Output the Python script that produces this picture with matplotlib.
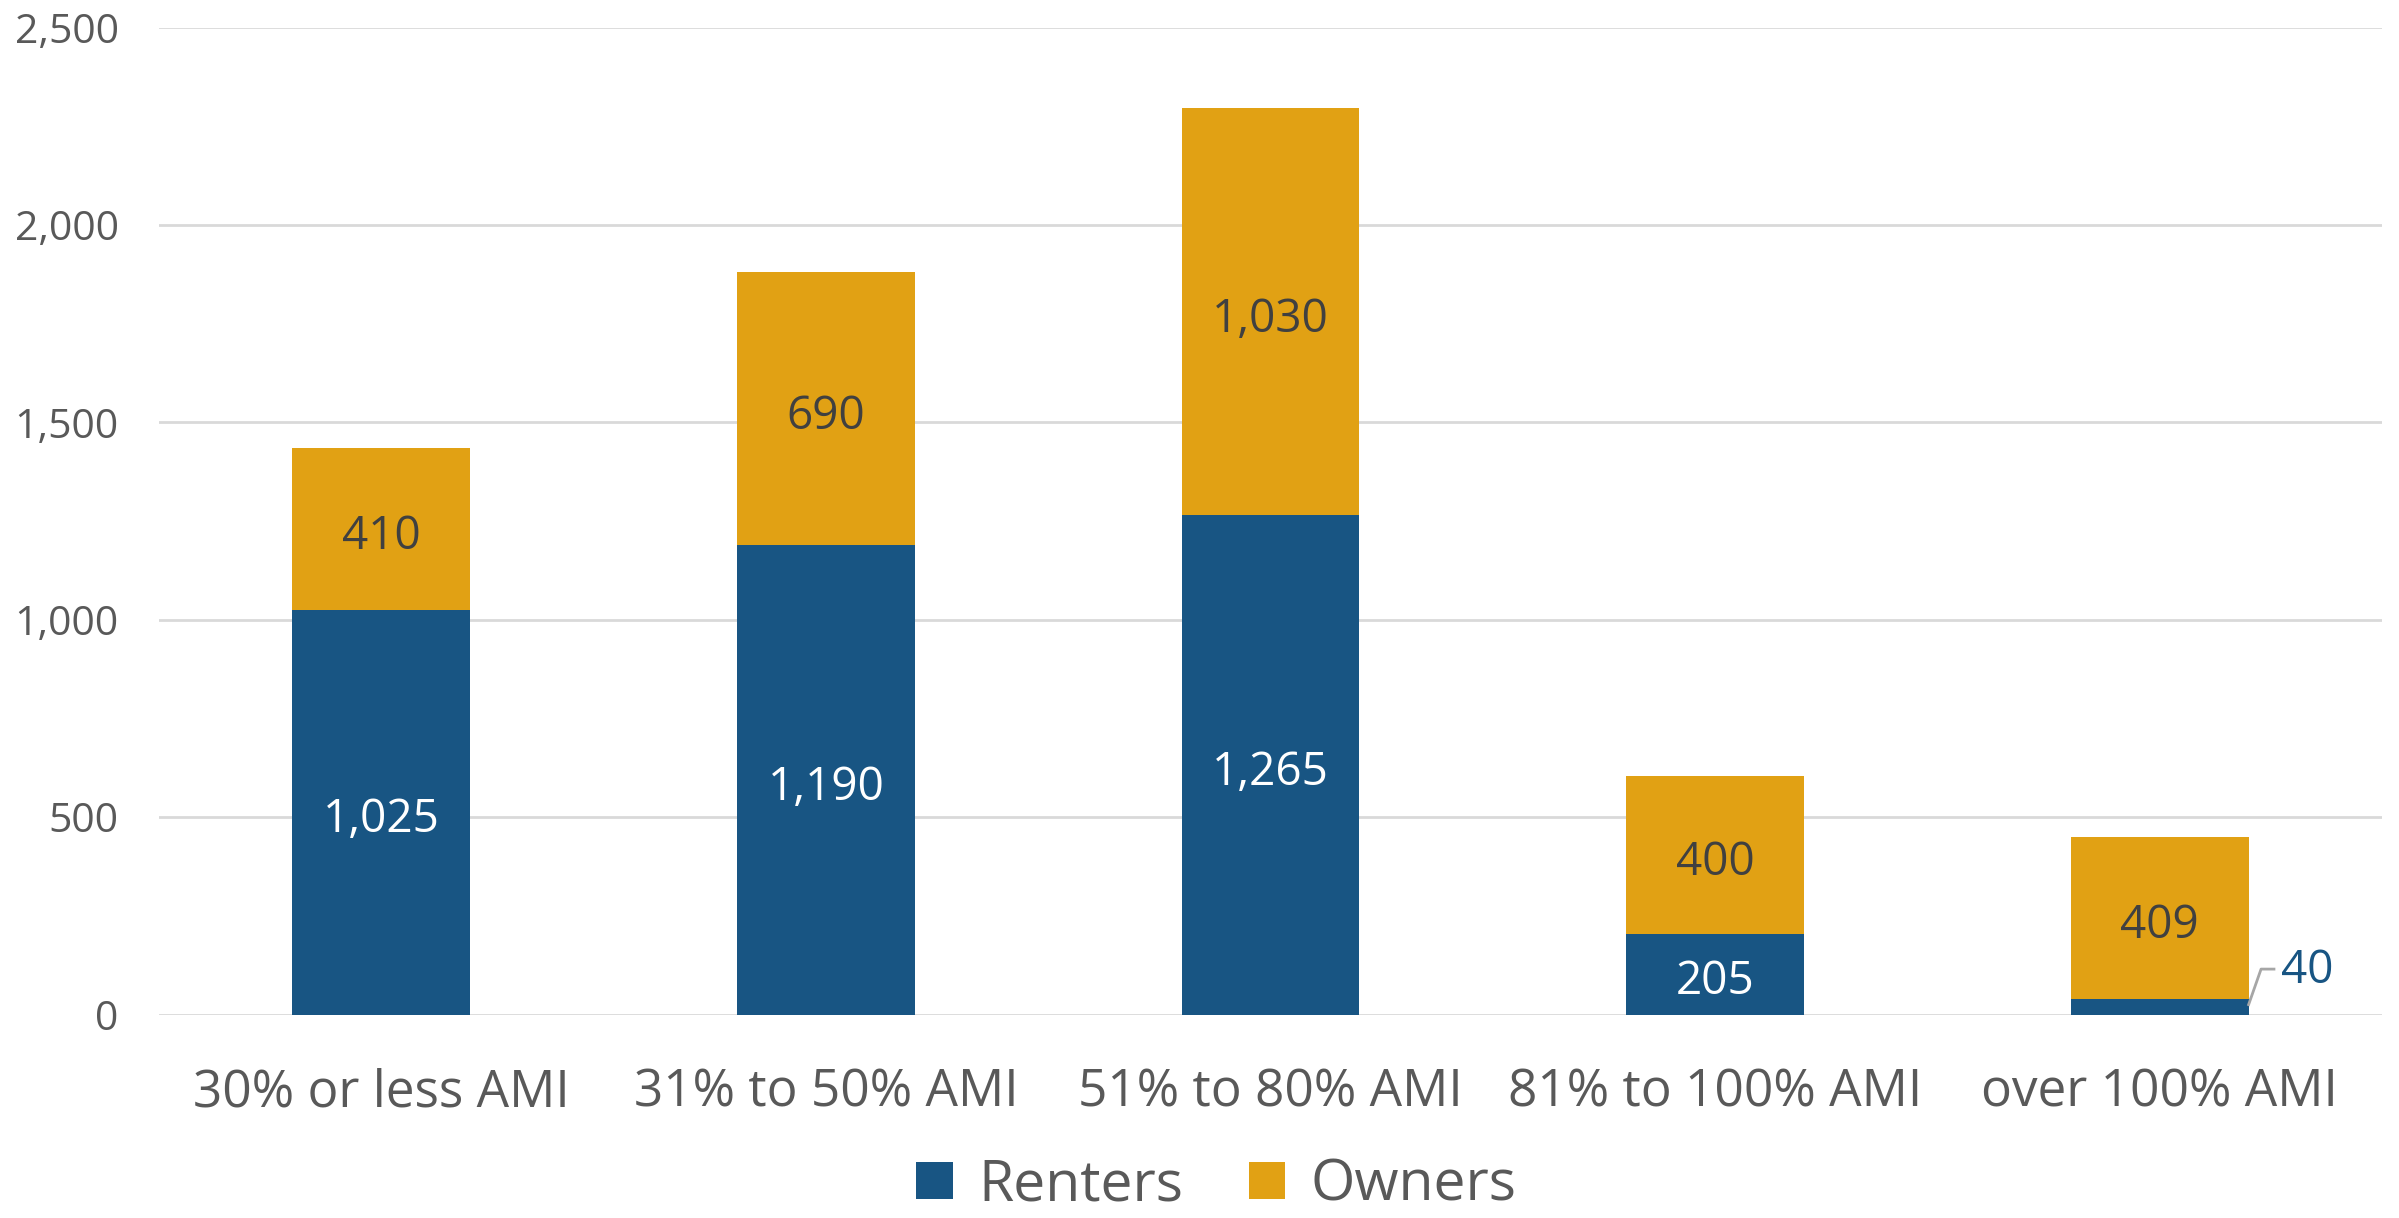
import matplotlib.pyplot as plt
import numpy as np

plt.rcParams['font.family'] = ['Open Sans', 'DejaVu Sans']

# Households by income band
categories = ["30% or less AMI", "31% to 50% AMI", "51% to 80% AMI",
              "81% to 100% AMI", "over 100% AMI"]
renters = [1025, 1190, 1265, 205, 40]
owners = [410, 690, 1030, 400, 409]

BLUE = '#185583'
GOLD = '#E1A114'
TEXT = '#595959'

fig = plt.figure(figsize=(23.99, 12.18), dpi=100)
ax = fig.add_axes([159 / 2399, 1 - 1014.5 / 1218, (2382 - 159) / 2399, (1014.5 - 27.5) / 1218])

x = np.arange(len(categories))
width = 0.4
b1 = ax.bar(x, renters, width, color=BLUE, label="Renters", zorder=3)
b2 = ax.bar(x, owners, width, bottom=renters, color=GOLD, label="Owners", zorder=3)

ax.set_xlim(-0.5, len(categories) - 0.5)
ax.set_ylim(0, 2500)
ax.set_yticks(np.arange(0, 2501, 500))
ax.set_yticklabels([f"{v:,}" for v in range(0, 2501, 500)])
ax.set_xticks(x)
ax.set_xticklabels(categories)
ax.tick_params(axis='y', length=0, pad=29, labelsize=29.5, labelcolor=TEXT)
ax.tick_params(axis='x', length=0, pad=38, labelsize=37, labelcolor=TEXT)
ax.grid(True, axis='y', color='#d9d9d9', linewidth=2, zorder=0)
for s in ax.spines.values():
    s.set_visible(False)

# segment labels
lbl = dict(fontsize=33, ha='center', va='center', zorder=4,
           textcoords='offset points', xytext=(0, -6))
for i in range(len(categories)):
    o_mid = renters[i] + owners[i] / 2
    ax.annotate(f"{owners[i]:,}", (x[i], o_mid), color='#404040', **lbl)
    if renters[i] >= 100:
        ax.annotate(f"{renters[i]:,}", (x[i], renters[i] / 2), color='white', **lbl)
    else:
        # small segment: label outside with a leader line
        x0 = x[i] + width / 2
        y0 = renters[i]
        ax.plot([x0, x0 + 0.028, x0 + 0.057], [y0 - 15, y0 + 75, y0 + 75],
                color='#a6a6a6', linewidth=2, zorder=4)
        ax.text(x0 + 0.073, y0 + 70, f"{renters[i]:,}", ha='left', va='center',
                fontsize=33, color=BLUE, zorder=4)

leg = fig.legend(handles=[b1, b2], loc='center', bbox_to_anchor=(0.507, 1 - 1186 / 1218),
                 ncol=2, frameon=False, fontsize=41, handlelength=0.64, handleheight=0.64,
                 handletextpad=0.45, columnspacing=1.15, borderpad=0.1)
for t in leg.get_texts():
    t.set_color(TEXT)

fig.savefig("out.png", dpi=100)
